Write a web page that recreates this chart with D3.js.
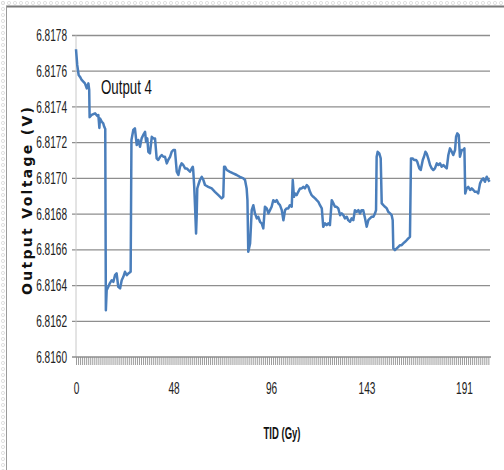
<!DOCTYPE html>
<html>
<head>
<meta charset="utf-8">
<script src="https://cdn.jsdelivr.net/npm/d3@7"></script>
<style>
  html, body { margin: 0; padding: 0; background: #ffffff; }
  svg { display: block; }
</style>
</head>
<body>
<svg id="chart" width="504" height="470"></svg>
<script>
// Output 4 voltage drift versus total ionising dose
const tidGy = [
  0, 0.6, 1.3, 2.0, 2.8, 4.4, 5.3, 6.1, 6.5, 6.7,
  7.7, 9.4, 10.6, 11.0, 11.5, 11.8, 12.7, 13.4, 13.9, 14.4,
  14.7, 15.1, 15.9, 16.7, 17.6, 18.4, 19.2, 20.0, 20.8, 21.7,
  22.5, 23.3, 24.1, 25.0, 25.8, 26.9, 27.3, 28.2, 29.0, 29.9,
  30.7, 31.5, 32.3, 33.1, 34.0, 34.5, 35.1, 35.6, 36.4, 37.3,
  38.1, 38.9, 39.7, 40.5, 41.4, 42.2, 43.0, 43.8, 44.7, 45.4,
  46.3, 47.1, 47.9, 48.7, 49.6, 50.4, 51.2, 52.0, 52.8, 53.7,
  54.5, 55.3, 56.1, 57.0, 57.5, 57.7, 58.2, 58.6, 59.1, 59.4,
  59.7, 60.2, 61.0, 61.9, 62.7, 63.5, 65.1, 66.8, 68.4, 70.1,
  71.7, 72.5, 72.9, 73.4, 74.2, 75.8, 77.4, 79.1, 80.7, 82.4,
  83.2, 84.0, 84.4, 84.8, 85.7, 86.5, 87.3, 88.1, 89.0, 89.7,
  90.6, 91.4, 92.2, 93.0, 93.9, 94.7, 95.5, 96.3, 97.1, 98.0,
  98.8, 99.6, 100.4, 101.3, 102.1, 102.9, 103.7, 104.5, 105.3, 106.2,
  106.7, 107.3, 107.8, 108.6, 109.4, 110.3, 111.1, 111.9, 112.7, 113.6,
  114.4, 115.2, 116.0, 116.8, 117.7, 118.5, 119.3, 120.1, 121.0, 121.7,
  122.6, 123.4, 124.2, 125.0, 125.9, 126.7, 127.5, 128.3, 129.1, 130.0,
  130.8, 131.6, 132.4, 133.3, 134.0, 134.9, 135.7, 136.5, 137.3, 138.2,
  139.0, 139.8, 140.6, 141.4, 142.3, 143.1, 143.9, 144.7, 145.6, 146.4,
  147.2, 147.7, 148.0, 148.5, 149.3, 150.0, 150.5, 151.3, 152.1, 153.0,
  153.7, 154.6, 155.4, 155.9, 156.2, 157.0, 157.9, 158.7, 159.5, 160.3,
  161.1, 162.0, 162.8, 163.6, 164.4, 164.9, 165.8, 166.4, 167.4, 168.0,
  169.0, 169.7, 170.7, 171.3, 172.0, 172.6, 173.4, 174.3, 175.1, 175.9,
  176.7, 177.6, 178.4, 179.2, 180.0, 180.8, 181.7, 182.5, 183.3, 184.1,
  185.0, 185.7, 186.6, 187.1, 187.7, 188.4, 189.0, 189.9, 190.7, 191.2,
  191.6, 192.3, 193.1, 194.0, 194.8, 195.6, 196.4, 197.3, 198.0, 198.9,
  199.7, 200.5, 201.3, 202.2, 203.0, 203.6
];

const outputV = [
  6.817723, 6.817635, 6.817579, 6.817568, 6.817551, 6.817532, 6.817504, 6.817532, 6.817495, 6.817343,
  6.817355, 6.817364, 6.817349, 6.817355, 6.817282, 6.817336, 6.817317, 6.817308, 6.817289, 6.817276,
  6.816262, 6.816374, 6.816393, 6.816414, 6.816430, 6.816421, 6.816458, 6.816468, 6.816393, 6.816384,
  6.816430, 6.816449, 6.816477, 6.816458, 6.816468, 6.816477, 6.817215, 6.817271, 6.817280, 6.817187,
  6.817215, 6.817177, 6.817224, 6.817243, 6.817261, 6.817205, 6.817224, 6.817149, 6.817140, 6.817233,
  6.817224, 6.817224, 6.817112, 6.817103, 6.817121, 6.817131, 6.817121, 6.817121, 6.817084, 6.817103,
  6.817121, 6.817149, 6.817159, 6.817159, 6.817037, 6.817019, 6.817065, 6.817084, 6.817075, 6.817056,
  6.817056, 6.817047, 6.817037, 6.817056, 6.817065, 6.817047, 6.816953, 6.816841, 6.816692, 6.816785,
  6.816944, 6.816963, 6.816991, 6.817009, 6.816991, 6.816963, 6.816953, 6.816944, 6.816925, 6.816906,
  6.816888, 6.816897, 6.817065, 6.817065, 6.817047, 6.817037, 6.817028, 6.817019, 6.817009, 6.817000,
  6.816991, 6.816944, 6.816878, 6.816589, 6.816636, 6.816822, 6.816850, 6.816804, 6.816776, 6.816785,
  6.816757, 6.816748, 6.816720, 6.816841, 6.816832, 6.816804, 6.816822, 6.816841, 6.816878, 6.816869,
  6.816878, 6.816860, 6.816850, 6.816822, 6.816766, 6.816822, 6.816832, 6.816832, 6.816850, 6.816841,
  6.816991, 6.816897, 6.816916, 6.816906, 6.816925, 6.816944, 6.816944, 6.816953, 6.816944, 6.816963,
  6.816953, 6.816925, 6.816906, 6.816897, 6.816888, 6.816878, 6.816869, 6.816850, 6.816832, 6.816729,
  6.816748, 6.816738, 6.816748, 6.816738, 6.816878, 6.816860, 6.816841, 6.816841, 6.816832, 6.816794,
  6.816804, 6.816794, 6.816776, 6.816785, 6.816766, 6.816757, 6.816776, 6.816766, 6.816822, 6.816813,
  6.816822, 6.816804, 6.816822, 6.816822, 6.816776, 6.816729, 6.816766, 6.816776, 6.816785, 6.816785,
  6.816804, 6.816822, 6.817121, 6.817149, 6.817140, 6.817112, 6.816860, 6.816850, 6.816841, 6.816832,
  6.816813, 6.816804, 6.816794, 6.816766, 6.816608, 6.816598, 6.816608, 6.816617, 6.816626, 6.816626,
  6.816636, 6.816645, 6.816654, 6.816664, 6.816673, 6.817112, 6.817112, 6.817103, 6.817103, 6.817093,
  6.817056, 6.817047, 6.817103, 6.817121, 6.817149, 6.817140, 6.817112, 6.817075, 6.817056, 6.817047,
  6.817056, 6.817084, 6.817075, 6.817084, 6.817065, 6.817075, 6.817065, 6.817056, 6.817131, 6.817168,
  6.817149, 6.817131, 6.817159, 6.817233, 6.817252, 6.817243, 6.817121, 6.817159, 6.817159, 6.817168,
  6.816916, 6.816944, 6.816953, 6.816935, 6.816944, 6.816935, 6.816925, 6.816925, 6.816916, 6.816972,
  6.816991, 6.817000, 6.816981, 6.817009, 6.816991, 6.816981
];

const yTickValues = [6.8160, 6.8162, 6.8164, 6.8166, 6.8168, 6.8170, 6.8172, 6.8174, 6.8176, 6.8178];
const xTickLabels = [0, 48, 96, 143, 191];
const tidMax = 203.8;

const svg = d3.select("#chart");
const W = 504, H = 470;
const plot = { left: 76, right: 490, top: 35.5, bottom: 357 };

const x = d3.scaleLinear().domain([0, tidMax]).range([plot.left, plot.right]);
const y = d3.scaleLinear().domain([6.8160, 6.8178]).range([plot.bottom, plot.top]);

const baseFont = "'Liberation Sans', Arial, sans-serif";

// squeeze text horizontally to a narrow face
function condense(sel, factor) {
  sel.each(function () {
    const w = this.getComputedTextLength();
    d3.select(this).attr("textLength", w * factor).attr("lengthAdjust", "spacingAndGlyphs");
  });
}

// scalloped page edge along the top and left
const defs = svg.append("defs");
const pat = defs.append("pattern")
  .attr("id", "scallop").attr("patternUnits", "userSpaceOnUse")
  .attr("width", 6).attr("height", 6);
pat.append("circle").attr("cx", 3).attr("cy", 3).attr("r", 1.6)
  .attr("fill", "none").attr("stroke", "#d8d8d8").attr("stroke-width", 0.8);
svg.append("rect").attr("x", 0).attr("y", 0).attr("width", W).attr("height", 5)
  .attr("fill", "url(#scallop)");
svg.append("rect").attr("x", 0).attr("y", 0).attr("width", 5).attr("height", H)
  .attr("fill", "url(#scallop)");

// chart frame
svg.append("line").attr("x1", 6).attr("x2", W).attr("y1", 6.5).attr("y2", 6.5)
  .attr("stroke", "#7a7a7a").attr("stroke-width", 2);
svg.append("line").attr("x1", 6.5).attr("x2", 6.5).attr("y1", 6).attr("y2", H)
  .attr("stroke", "#9a9a9a").attr("stroke-width", 1);

// horizontal gridlines
svg.append("g").selectAll("line")
  .data(yTickValues.filter(v => v > 6.8160))
  .join("line")
  .attr("x1", plot.left - 4).attr("x2", plot.right)
  .attr("y1", d => y(d)).attr("y2", d => y(d))
  .attr("stroke", "#8e8e8e").attr("stroke-width", 1.3);

// vertical axis line
svg.append("line").attr("x1", plot.left).attr("x2", plot.left)
  .attr("y1", plot.top).attr("y2", plot.bottom)
  .attr("stroke", "#c8c8c8").attr("stroke-width", 1);

// dense category tick band under the baseline
const minorTicks = d3.range(0, tidMax, 1);
const band = svg.append("g")
  .attr("transform", `translate(0,${plot.bottom})`)
  .call(d3.axisBottom(x).tickValues(minorTicks).tickSize(8).tickFormat(""));
band.select(".domain").remove();
band.selectAll(".tick line").attr("stroke", "#9c9c9c").attr("stroke-width", 1);
svg.append("line").attr("x1", plot.left - 4).attr("x2", plot.right + 1)
  .attr("y1", plot.bottom).attr("y2", plot.bottom)
  .attr("stroke", "#8e8e8e").attr("stroke-width", 1.3);

// y tick labels
const yAxis = svg.append("g")
  .attr("transform", `translate(${plot.left},0)`)
  .call(d3.axisLeft(y).tickValues(yTickValues).tickSize(0).tickPadding(9)
    .tickFormat(d3.format(".4f")));
yAxis.select(".domain").remove();
yAxis.selectAll("text").attr("font-family", baseFont).attr("font-size", 16).attr("fill", "#222")
  .call(condense, 0.63);

// x tick labels
const xAxis = svg.append("g")
  .attr("transform", `translate(0,${plot.bottom})`)
  .call(d3.axisBottom(x).tickValues(xTickLabels).tickSize(0).tickPadding(26)
    .tickFormat(d3.format("d")));
xAxis.select(".domain").remove();
xAxis.selectAll("text").attr("font-family", baseFont).attr("font-size", 16).attr("fill", "#222")
  .call(condense, 0.63);

// voltage trace
const series = tidGy.map((t, i) => ({ t, v: outputV[i] }));
svg.append("path")
  .datum(series)
  .attr("fill", "none")
  .attr("stroke", "#4a7ebb")
  .attr("stroke-width", 2.5)
  .attr("stroke-linejoin", "round")
  .attr("d", d3.line().x(d => x(d.t)).y(d => y(d.v)));

// in-plot label
svg.append("text")
  .attr("x", 101).attr("y", 94)
  .attr("font-family", baseFont).attr("font-size", 21)
  .attr("textLength", 51).attr("lengthAdjust", "spacingAndGlyphs")
  .attr("fill", "#111")
  .text("Output  4");

// axis titles
svg.append("text")
  .attr("transform", "translate(32,201) rotate(-90)")
  .attr("text-anchor", "middle")
  .attr("font-family", "'DejaVu Sans', sans-serif")
  .attr("font-weight", "bold").attr("font-size", 14)
  .attr("textLength", 188).attr("lengthAdjust", "spacing")
  .attr("fill", "#111")
  .text("Output Voltage (V)");

svg.append("text")
  .attr("x", 282).attr("y", 439)
  .attr("text-anchor", "middle")
  .attr("font-family", baseFont)
  .attr("font-weight", "bold").attr("font-size", 17)
  .attr("textLength", 37).attr("lengthAdjust", "spacingAndGlyphs")
  .attr("fill", "#111")
  .text("TID (Gy)");
</script>
</body>
</html>
